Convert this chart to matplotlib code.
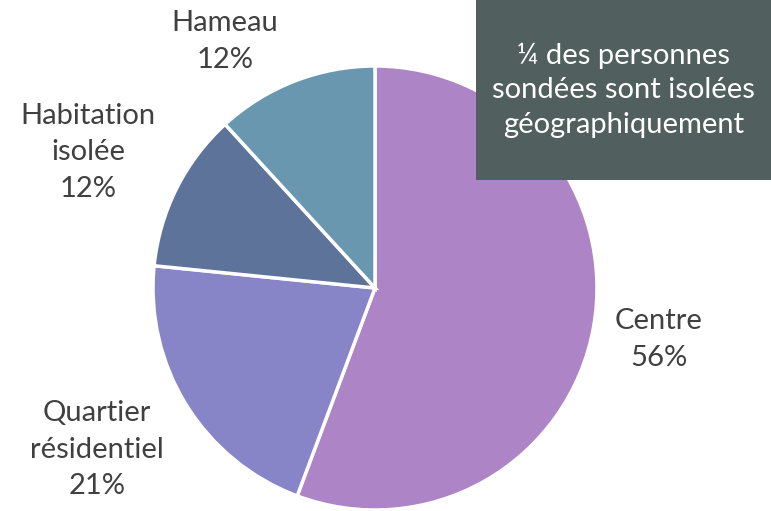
import numpy as np
import matplotlib
matplotlib.use("Agg")
import matplotlib.pyplot as plt

categories = ["Centre", "Quartier\nrésidentiel", "Habitation\nisolée", "Hameau"]
values = [55.7, 20.9, 11.6, 11.8]
pct_labels = ["56%", "21%", "12%", "12%"]
colors = ["#AD84C6", "#8784C7", "#5D739A", "#6997AF"]
note = "¼ des personnes\nsondées sont isolées\ngéographiquement"

label_dist = [1.30, 1.45, 1.43, 1.30]
label_angle_shift = [0.0, -1.7, 1.3, 10.1]

plt.rcParams['font.family'] = ['Lato', 'DejaVu Sans']

W, H = 771, 511
fig = plt.figure(figsize=(W / 100, H / 100), dpi=100)
cx, cy, r = 375, 288, 222
ax = fig.add_axes([(cx - r) / W, (H - cy - r) / H, 2 * r / W, 2 * r / H])
wedges, _ = ax.pie(values, colors=colors, startangle=90, counterclock=False,
                   radius=1, wedgeprops=dict(edgecolor="white", linewidth=2.5))
ax.set_xlim(-1, 1)
ax.set_ylim(-1, 1)
ax.set_aspect("equal")
ax.axis("off")

for w, cat, pct, d, s in zip(wedges, categories, pct_labels, label_dist, label_angle_shift):
    mid = np.deg2rad((w.theta1 + w.theta2) / 2 + s)
    ax.text(d * np.cos(mid), d * np.sin(mid), cat + "\n" + pct, ha="center", va="center",
            fontsize=21, color="#404040", linespacing=1.5, clip_on=False)

fig.patches.append(plt.Rectangle((476 / W, 1 - 180 / H), (771 - 476) / W, 180 / H,
                                 transform=fig.transFigure, facecolor="#525F5F",
                                 edgecolor="none", zorder=0))
fig.text((476 + 771) / 2 / W, 1 - 90 / H, note, ha="center", va="center", fontsize=21,
         color="white", linespacing=1.4, zorder=5)

fig.savefig("out.png", dpi=100)
